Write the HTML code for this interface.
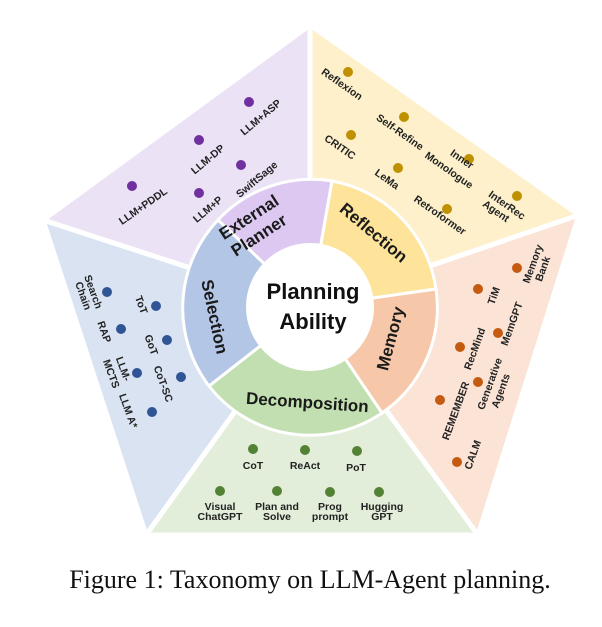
<!DOCTYPE html>
<html><head><meta charset="utf-8"><style>
html,body{margin:0;padding:0;background:#fff;}
svg{display:block;}
text{font-family:"Liberation Sans",sans-serif;font-weight:bold;fill:#222;}
.l{font-size:10.5px;}
.r{font-size:17px;fill:#1a1a1a;}
</style></head><body>
<svg width="602" height="627" viewBox="0 0 602 627" xmlns="http://www.w3.org/2000/svg">
<g stroke="#fff" stroke-width="5" stroke-linejoin="round">
<polygon points="310,307 43,220 310,25" fill="#ece2f6"/>
<polygon points="310,307 310,25 579,215" fill="#fdf0cb"/>
<polygon points="310,307 579,215 478,535" fill="#fbe3d5"/>
<polygon points="310,307 478,535 146,535" fill="#e2eed9"/>
<polygon points="310,307 146,535 43,220" fill="#d9e3f2"/>
</g>
<g stroke="#fff" stroke-width="3">
<path d="M310,307 L218,220 A128,128 0 0 1 332,181 Z" fill="#dcc8f0"/>
<path d="M310,307 L332,181 A128,128 0 0 1 436,289 Z" fill="#fde49a"/>
<path d="M310,307 L436,289 A128,128 0 0 1 382,413 Z" fill="#f6c7a8"/>
<path d="M310,307 L382,413 A128,128 0 0 1 209,386 Z" fill="#c2dfb1"/>
<path d="M310,307 L209,386 A128,128 0 0 1 218,220 Z" fill="#b3c6e6"/>
</g>
<circle cx="310" cy="307" r="64" fill="#fff"/>
<text x="313" y="299" text-anchor="middle" style="font-size:22px;fill:#111">Planning</text>
<text x="313" y="329" text-anchor="middle" style="font-size:22px;fill:#111">Ability</text>
<text class="r" text-anchor="middle" transform="translate(252,222) rotate(-33)">External</text>
<text class="r" text-anchor="middle" transform="translate(262,240) rotate(-33)">Planner</text>
<text class="r" text-anchor="middle" transform="translate(370,237) rotate(40)">Reflection</text>
<text class="r" text-anchor="middle" transform="translate(396,340) rotate(-75)">Memory</text>
<text class="r" text-anchor="middle" transform="translate(307,408) rotate(4)">Decomposition</text>
<text class="r" text-anchor="middle" transform="translate(209,318) rotate(78)">Selection</text>
<g fill="#7030a0">
<circle cx="132" cy="186" r="5"/><circle cx="199" cy="140" r="5"/><circle cx="249" cy="102" r="5"/><circle cx="199" cy="193" r="5"/><circle cx="241" cy="165" r="5"/>
</g>
<text class="l" text-anchor="middle" transform="translate(145,209) rotate(-35)">LLM+PDDL</text>
<text class="l" text-anchor="middle" transform="translate(210,162) rotate(-40)">LLM-DP</text>
<text class="l" text-anchor="middle" transform="translate(263,120) rotate(-40)">LLM+ASP</text>
<text class="l" text-anchor="middle" transform="translate(210,212) rotate(-40)">LLM+P</text>
<text class="l" text-anchor="middle" transform="translate(259,182) rotate(-40)">SwiftSage</text>
<g fill="#bf9000">
<circle cx="348" cy="72" r="5"/><circle cx="404" cy="117" r="5"/><circle cx="351" cy="135" r="5"/><circle cx="398" cy="168" r="5"/><circle cx="469" cy="159" r="5"/><circle cx="447" cy="209" r="5"/><circle cx="517" cy="196" r="5"/>
</g>
<text class="l" text-anchor="middle" transform="translate(340,87) rotate(35)">Reflexion</text>
<text class="l" text-anchor="middle" transform="translate(398,135) rotate(35)">Self-Refine</text>
<text class="l" text-anchor="middle" transform="translate(338,150) rotate(35)">CRITIC</text>
<text class="l" text-anchor="middle" transform="translate(385,182) rotate(35)">LeMa</text>
<text class="l" text-anchor="middle" transform="translate(460,162) rotate(35)">Inner</text>
<text class="l" text-anchor="middle" transform="translate(447,173) rotate(35)">Monologue</text>
<text class="l" text-anchor="middle" transform="translate(438,218) rotate(35)">Retroformer</text>
<text class="l" text-anchor="middle" transform="translate(505,208) rotate(35)">InterRec</text>
<text class="l" text-anchor="middle" transform="translate(494,214) rotate(35)">Agent</text>
<g fill="#c55a11">
<circle cx="517" cy="268" r="5"/><circle cx="478" cy="289" r="5"/><circle cx="498" cy="333" r="5"/><circle cx="460" cy="347" r="5"/><circle cx="478" cy="382" r="5"/><circle cx="440" cy="400" r="5"/><circle cx="457" cy="462" r="5"/>
</g>
<text class="l" text-anchor="middle" transform="translate(536,265) rotate(-70)">Memory</text>
<text class="l" text-anchor="middle" transform="translate(546,270) rotate(-70)">Bank</text>
<text class="l" text-anchor="middle" transform="translate(497,297) rotate(-70)">TiM</text>
<text class="l" text-anchor="middle" transform="translate(515,325) rotate(-70)">MemGPT</text>
<text class="l" text-anchor="middle" transform="translate(478,350) rotate(-70)">RecMind</text>
<text class="l" text-anchor="middle" transform="translate(493,385) rotate(-70)">Generative</text>
<text class="l" text-anchor="middle" transform="translate(504,392) rotate(-70)">Agents</text>
<text class="l" text-anchor="middle" transform="translate(459,412) rotate(-70)">REMEMBER</text>
<text class="l" text-anchor="middle" transform="translate(476,456) rotate(-70)">CALM</text>
<g fill="#2f5597">
<circle cx="107" cy="292" r="5"/><circle cx="156" cy="306" r="5"/><circle cx="121" cy="329" r="5"/><circle cx="167" cy="340" r="5"/><circle cx="137" cy="373" r="5"/><circle cx="181" cy="377" r="5"/><circle cx="152" cy="412" r="5"/>
</g>
<text class="l" text-anchor="middle" transform="translate(90,293) rotate(70)">Search</text>
<text class="l" text-anchor="middle" transform="translate(80,297) rotate(70)">Chain</text>
<text class="l" text-anchor="middle" transform="translate(138,306) rotate(70)">ToT</text>
<text class="l" text-anchor="middle" transform="translate(101,333) rotate(70)">RAP</text>
<text class="l" text-anchor="middle" transform="translate(148,346) rotate(70)">GoT</text>
<text class="l" text-anchor="middle" transform="translate(120,370) rotate(70)">LLM-</text>
<text class="l" text-anchor="middle" transform="translate(108,375) rotate(70)">MCTS</text>
<text class="l" text-anchor="middle" transform="translate(160,385) rotate(70)">CoT-SC</text>
<text class="l" text-anchor="middle" transform="translate(125,412) rotate(70)">LLM A*</text>
<g fill="#548235">
<circle cx="253" cy="449" r="5"/><circle cx="305" cy="450" r="5"/><circle cx="357" cy="451" r="5"/>
<circle cx="220" cy="491" r="5"/><circle cx="277" cy="491" r="5"/><circle cx="330" cy="492" r="5"/><circle cx="379" cy="492" r="5"/>
</g>
<text class="l" x="253" y="469" text-anchor="middle">CoT</text>
<text class="l" x="305" y="469" text-anchor="middle">ReAct</text>
<text class="l" x="356" y="471" text-anchor="middle">PoT</text>
<text class="l" x="220" y="510" text-anchor="middle">Visual</text>
<text class="l" x="220" y="520" text-anchor="middle">ChatGPT</text>
<text class="l" x="277" y="510" text-anchor="middle">Plan and</text>
<text class="l" x="277" y="520" text-anchor="middle">Solve</text>
<text class="l" x="330" y="510" text-anchor="middle">Prog</text>
<text class="l" x="330" y="520" text-anchor="middle">prompt</text>
<text class="l" x="382" y="510" text-anchor="middle">Hugging</text>
<text class="l" x="382" y="520" text-anchor="middle">GPT</text>
<text x="310" y="588" text-anchor="middle" style="font-family:'Liberation Serif',serif;font-weight:normal;font-size:26px;fill:#111">Figure 1: Taxonomy on LLM-Agent planning.</text>
</svg>
</body></html>
